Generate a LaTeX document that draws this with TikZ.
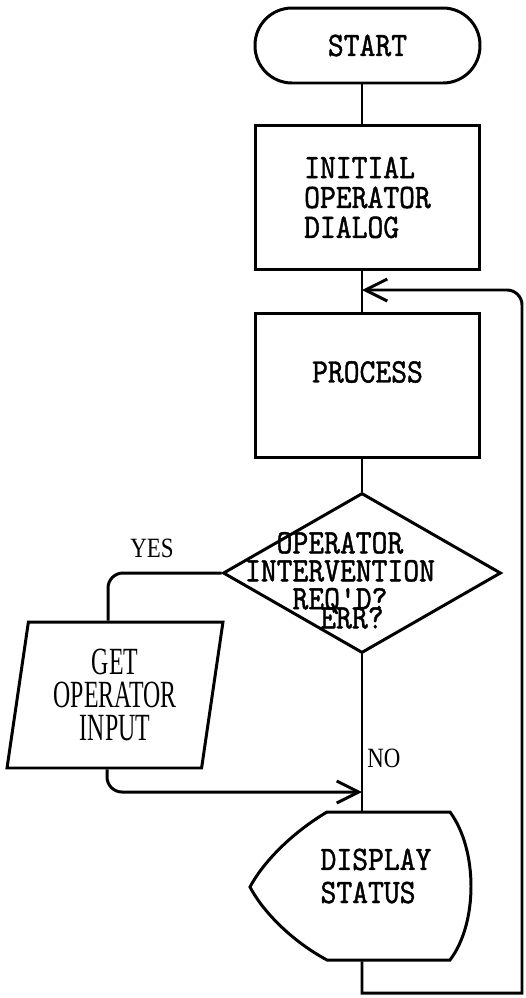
\documentclass[tikz,border=0pt]{standalone}
\usepackage{fontspec}
\usepackage{tikz}
\usetikzlibrary{
  arrows.meta,
  shapes.geometric
}
\newfontfamily\typewfont[FakeStretch=0.88,FakeBold=1.2]{lmmono10-regular.otf}
\newfontfamily\handfont[FakeStretch=0.82]{Liberation Serif}
\newfontfamily\inputfont[FakeStretch=0.62]{Liberation Serif}

\begin{document}
\begin{tikzpicture}[
  x=0.02cm,
  y=-0.02cm,
  line width=1.7pt,
  typed/.style={font=\typewfont\fontsize{19.5}{17}\selectfont},
  box/.style={
    draw,
    typed,
    inner sep=0pt,
    minimum width=4.5cm,
    minimum height=2.9cm,
    align=left
  },
  terminal/.style={
    draw,
    typed,
    rounded corners=0.74cm,
    inner sep=0pt,
    minimum width=4.5cm,
    minimum height=1.5cm
  },
  decision/.style={draw,diamond,inner sep=0pt,minimum width=5.56cm,minimum height=3.2cm},
  iobox/.style={
    draw,
    trapezium,
    trapezium left angle=77,
    trapezium right angle=103,
    trapezium stretches body,
    inner sep=0pt,
    minimum width=4.32cm,
    minimum height=2.92cm,
    align=center,
    font=\inputfont\fontsize{21.9}{19}\selectfont
  },
  dispframe/.style={inner sep=0pt,minimum width=4.4cm,minimum height=2.96cm},
  tag/.style={font=\handfont\fontsize{15.9}{18}\selectfont},
  flow/.style={-{Straight Barb[length=0.44cm,width=0.44cm]}},
  link/.style={rounded corners=0.3cm}
]
\useasboundingbox (0,0) rectangle (525,998);

\coordinate (axis) at (362,0);
\coordinate (merge) at (362,290);
\coordinate (join) at (362,792);
\coordinate (loopbot) at (522,993);

\node[terminal] (start) at (367.5,45.5) {START};
\node[box] (dialog) at (367.5,197.5) {INITIAL\\OPERATOR\\DIALOG};
\node[box,label={[typed,yshift=0.27cm]center:PROCESS}] (process) at (367.5,385.5) {};
\node[decision] (query) at (362,573) {};
\node[typed,align=center,font=\typewfont\fontsize{19.5}{15.9}\selectfont] (querytext)
  at (340,573) {OPERATOR\\INTERVENTION\\REQ'D?};
\node[typed] (errtext) at (352,618) {ERR?};
\node[iobox] (getinput) at (115,695) {GET\\OPERATOR\\INPUT};
\node[
  dispframe,
  label={[typed,align=left,font=\typewfont\fontsize{19.5}{18.8}\selectfont,
    xshift=0.32cm,yshift=0.2cm]center:DISPLAY\\STATUS}
] (display) at (360,886) {};
\node[tag] (yes) at (152,548) {YES};
\node[tag] (no) at (384,758) {NO};

% display symbol outline
\draw (327,812) -- (450,812)
  .. controls (478,850) and (478,923) .. (450,960) -- (327,960)
  .. controls (290,940) and (262,910) .. (250,887)
  .. controls (262,864) and (290,834) .. cycle;

\draw (start.south -| axis) -- (dialog.north -| axis);
\draw (dialog.south -| axis) -- (process.north -| axis);
\draw (process.south -| axis) -- (query.north);
\draw (query.south) -- (display.north -| axis);
\draw[link] (query.west) -| ([xshift=-0.14cm]getinput.north);
\draw[flow,link] ([xshift=-0.16cm]getinput.south) |- (join);
\draw[flow] (display.south -| axis) |- (loopbot) [link] |- (merge);
\end{tikzpicture}
\end{document}
